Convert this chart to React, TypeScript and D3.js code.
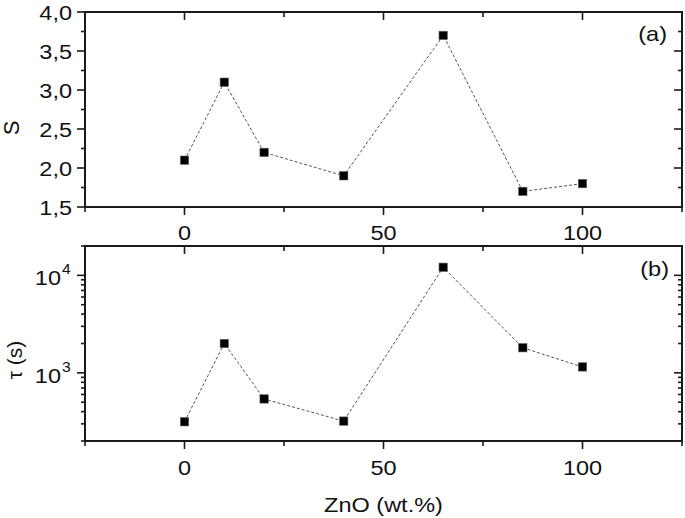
import React from 'react';
import * as d3 from 'd3';

// ZnO content (wt.%)
const zno = [0, 10, 20, 40, 65, 85, 100];
// panel (a): S
const sValues = [2.1, 3.1, 2.2, 1.9, 3.7, 1.7, 1.8];
// panel (b): tau (s)
const tauValues = [315, 2000, 540, 320, 12100, 1810, 1150];

const xTicks = [-25, 0, 25, 50, 75, 100, 125];
const xLabelTicks = [0, 50, 100];
const sTicks = [1.5, 1.75, 2.0, 2.25, 2.5, 2.75, 3.0, 3.25, 3.5, 3.75, 4.0];
const sLabelTicks = [1.5, 2.0, 2.5, 3.0, 3.5, 4.0];
const tauMajor = [1000, 10000];

const W = 685;
const H = 518;
const left = 85;
const right = 682;
const panelA = { top: 12, bottom: 207 };
const panelB = { top: 246, bottom: 441 };

const FONT = '"Liberation Sans", Arial, sans-serif';
const AX = '#1a1a1a';
const SX = 1.12; // horizontal stretch of the original text

function Txt(props: { x: number; y: number; anchor?: string; size?: number; children: any }) {
  const { x, y, anchor = 'middle', size = 21, children } = props;
  return (
    <text
      transform={`translate(${x},${y}) scale(${SX},1)`}
      textAnchor={anchor}
      fontSize={size}
      fontFamily={FONT}
      fill="#111"
    >
      {children}
    </text>
  );
}

function XAxes({ x, top, bottom }: { x: d3.ScaleLinear<number, number>; top: number; bottom: number }) {
  return (
    <g stroke={AX} strokeWidth={1.6}>
      {xTicks.map(t => {
        const len = xLabelTicks.includes(t) ? 8 : 5;
        return (
          <g key={t}>
            <line x1={x(t)} x2={x(t)} y1={top} y2={top + len} />
            <line x1={x(t)} x2={x(t)} y1={bottom} y2={bottom + len} />
          </g>
        );
      })}
    </g>
  );
}

function Frame({ top, bottom }: { top: number; bottom: number }) {
  return (
    <rect x={left} y={top} width={right - left} height={bottom - top} fill="none" stroke={AX} strokeWidth={2} />
  );
}

function Series({ pts }: { pts: [number, number][] }) {
  const line = d3.line();
  return (
    <g>
      <path d={line(pts) || ''} fill="none" stroke="#555" strokeWidth={1} strokeDasharray="3,2" />
      {pts.map((p, i) => (
        <rect key={i} x={p[0] - 4.2} y={p[1] - 4.2} width={8.4} height={8.4} fill="#000" stroke="#666" strokeWidth={0.6} />
      ))}
    </g>
  );
}

export default function App() {
  const x = d3.scaleLinear().domain([-25, 125]).range([left, right]);
  const yS = d3.scaleLinear().domain([1.5, 4.0]).range([panelA.bottom, panelA.top]);
  const yT = d3.scaleLog().domain([200, 20000]).range([panelB.bottom, panelB.top]);

  const tauTicks = yT.ticks().filter(t => t >= 200 && t <= 20000);

  const ptsA: [number, number][] = zno.map((z, i) => [x(z), yS(sValues[i])]);
  const ptsB: [number, number][] = zno.map((z, i) => [x(z), yT(tauValues[i])]);

  const fmt = (v: number) => v.toFixed(1).replace('.', ',');

  return (
    <svg width={W} height={H} style={{ position: 'absolute', left: 0, top: 0, background: '#fff' }}>
      {/* panel (a) */}
      <g stroke={AX} strokeWidth={1.6}>
        {sTicks.map(t => {
          const major = sLabelTicks.some(m => Math.abs(m - t) < 1e-9);
          const len = major ? 8 : 4;
          return (
            <g key={t}>
              <line x1={left - len} x2={left} y1={yS(t)} y2={yS(t)} />
              <line x1={right - len} x2={right} y1={yS(t)} y2={yS(t)} />
            </g>
          );
        })}
      </g>
      <XAxes x={x} top={panelA.top} bottom={panelA.bottom} />
      <Frame top={panelA.top} bottom={panelA.bottom} />
      {sLabelTicks.map(t => (
        <Txt key={t} x={72} y={yS(t) + 7.5} anchor="end">{fmt(t)}</Txt>
      ))}
      {xLabelTicks.map(t => (
        <Txt key={t} x={x(t)} y={panelA.bottom + 33}>{t}</Txt>
      ))}
      <text transform={`translate(19,128) rotate(-90)`} textAnchor="middle" fontSize={22} fontFamily={FONT} fill="#111">S</text>
      <Txt x={667} y={41} anchor="end">(a)</Txt>
      <Series pts={ptsA} />

      {/* panel (b) */}
      <g stroke={AX} strokeWidth={1.6}>
        {tauTicks.map(t => {
          const len = tauMajor.includes(t) ? 8 : 4;
          return (
            <g key={t}>
              <line x1={left - len} x2={left} y1={yT(t)} y2={yT(t)} />
              <line x1={right - len} x2={right} y1={yT(t)} y2={yT(t)} />
            </g>
          );
        })}
      </g>
      <XAxes x={x} top={panelB.top} bottom={panelB.bottom} />
      <Frame top={panelB.top} bottom={panelB.bottom} />
      {tauMajor.map(t => (
        <g key={t} transform={`translate(0,${yT(t)})`}>
          <Txt x={61} y={10} anchor="end">10</Txt>
          <Txt x={62} y={-1} anchor="start" size={14}>{Math.round(Math.log10(t))}</Txt>
        </g>
      ))}
      {xLabelTicks.map(t => (
        <Txt key={t} x={x(t)} y={panelB.bottom + 34}>{t}</Txt>
      ))}
      <text transform={`translate(22,360) rotate(-90)`} textAnchor="middle" fontSize={21} fontFamily={FONT} fill="#111">τ (s)</text>
      <Txt x={669} y={276} anchor="end">(b)</Txt>
      <Series pts={ptsB} />

      <Txt x={(left + right) / 2} y={512}>ZnO (wt.%)</Txt>
    </svg>
  );
}
